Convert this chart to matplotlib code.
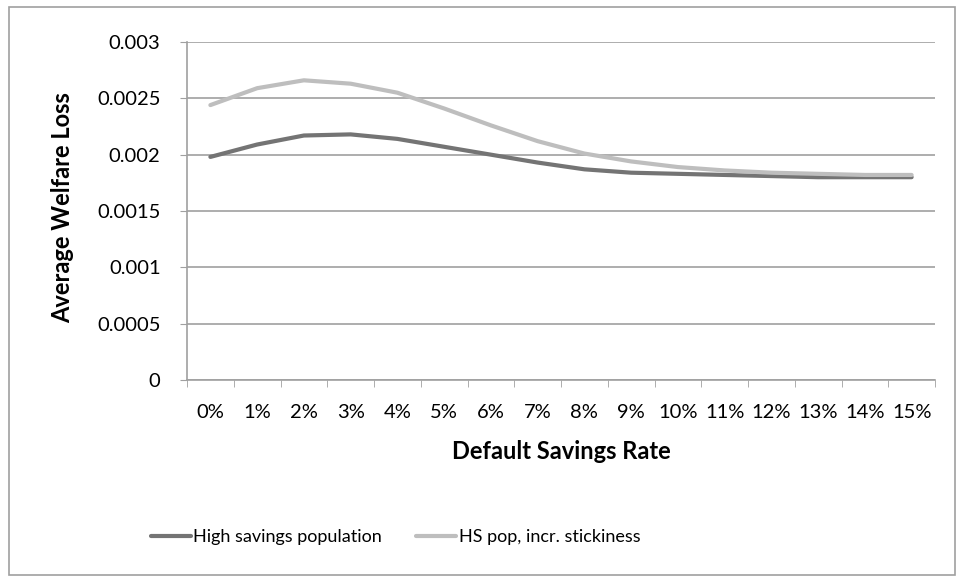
import matplotlib.pyplot as plt
import numpy as np
from matplotlib.patches import Rectangle

plt.rcParams["font.family"] = ["Lato", "DejaVu Sans"]

rate_labels = ["0%", "1%", "2%", "3%", "4%", "5%", "6%", "7%", "8%", "9%",
               "10%", "11%", "12%", "13%", "14%", "15%"]
high_savings = [0.00198, 0.00209, 0.00217, 0.00218, 0.00214, 0.00207, 0.00200, 0.00193,
                0.00187, 0.00184, 0.00183, 0.00182, 0.00181, 0.00180, 0.00180, 0.00180]
hs_sticky = [0.00244, 0.00259, 0.00266, 0.00263, 0.00255, 0.00241, 0.00226, 0.00212,
             0.00201, 0.00194, 0.00189, 0.00186, 0.00184, 0.00183, 0.00182, 0.00182]
y_ticks = [0, 0.0005, 0.001, 0.0015, 0.002, 0.0025, 0.003]
y_tick_labels = ["0", "0.0005", "0.001", "0.0015", "0.002", "0.0025", "0.003"]

grid_color = "#a0a0a0"
dark = "#747474"
light = "#bebebe"
tick_fs = 14.5
label_fs = 17

fig = plt.figure(figsize=(9.64, 5.82), dpi=100)
fig.patches.append(Rectangle((9 / 964, 7 / 582), 946 / 964, 568 / 582, transform=fig.transFigure,
                             fill=False, edgecolor="#a0a0a0", linewidth=1.2))
ax = fig.add_axes([187 / 964, 1 - 380 / 582, 748 / 964, 338 / 582])

x = np.arange(len(rate_labels))
ax.plot(x, high_savings, color=dark, linewidth=3.0, solid_capstyle="round", label="High savings population")
ax.plot(x, hs_sticky, color=light, linewidth=3.0, solid_capstyle="round", label="HS pop, incr. stickiness")

ax.set_xlim(-0.5, len(rate_labels) - 0.5)
ax.set_ylim(0, 0.003)
ax.set_yticks(y_ticks)
ax.set_yticklabels(y_tick_labels)
ax.set_xticks(x)
ax.set_xticklabels(rate_labels)
ax.set_xticks(np.arange(-0.5, len(rate_labels)), minor=True)
ax.tick_params(axis="x", which="major", length=0, pad=17, labelsize=tick_fs)
ax.tick_params(axis="x", which="minor", length=5, color=grid_color, direction="out")
ax.tick_params(axis="y", length=5, color=grid_color, labelsize=tick_fs, pad=14)

ax.yaxis.grid(True, color=grid_color, linewidth=1.2)
ax.set_axisbelow(True)
for side in ["top", "right"]:
    ax.spines[side].set_visible(False)
for side in ["left", "bottom"]:
    ax.spines[side].set_color(grid_color)
    ax.spines[side].set_linewidth(1.2)

ax.set_xlabel("Default Savings Rate", fontsize=label_fs, fontweight="bold")
ax.set_ylabel("Average Welfare Loss", fontsize=label_fs, fontweight="bold")
ax.xaxis.set_label_coords(0.5, (380 - 440) / 338)
ax.yaxis.set_label_coords((74 - 187) / 748, 0.51)

fig.legend(loc="center left", bbox_to_anchor=(151 / 964, 1 - 537 / 582), ncol=2, frameon=False,
           fontsize=13, handlelength=2.2, handletextpad=0.15, columnspacing=1.9,
           borderaxespad=0, borderpad=0)

fig.savefig("out.png", dpi=100)
